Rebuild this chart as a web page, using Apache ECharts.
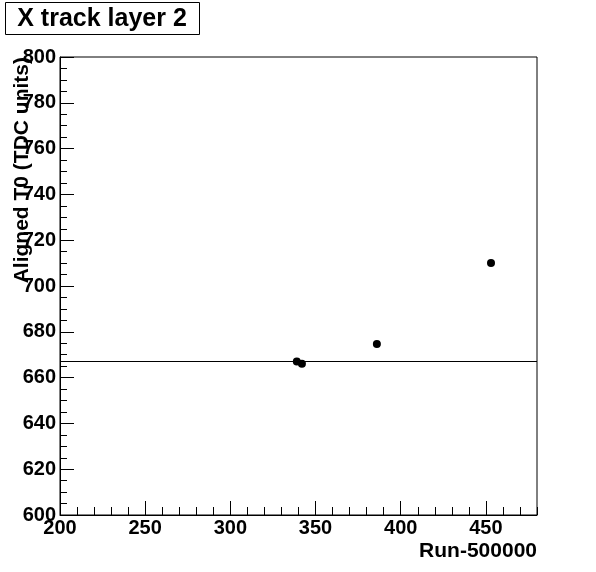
<!DOCTYPE html>
<html>
<head>
<meta charset="utf-8">
<script src="https://cdn.jsdelivr.net/npm/echarts@6/dist/echarts.min.js"></script>
<style>html,body{margin:0;padding:0;background:#fff;}#chart{width:596px;height:572px;}</style>
</head>
<body>
<div id="chart"></div>
<script>
const titleText = "X track layer 2";
const xAxisTitle = "Run-500000";
const yAxisTitle = "Aligned T0 (TDC units)";
const runs = [339, 342, 386, 453];
const t0 = [667, 666, 674.7, 710];
const meanT0 = 667;
const xRange = [200, 480];
const yRange = [600, 800];

const FONT = '"Liberation Sans", Arial, sans-serif';
const chart = echarts.init(document.getElementById('chart'), null, {renderer: 'canvas'});
const pts = runs.map((r, i) => [r, t0[i]]);

chart.setOption({
  animation: false,
  backgroundColor: '#fff',
  grid: {left: 60, right: 59, top: 57, bottom: 57, show: true, borderColor: '#000', borderWidth: 1, backgroundColor: 'transparent'},
  xAxis: [{
    type: 'value', min: xRange[0], max: xRange[1], interval: 50, position: 'bottom',
    axisLine: {show: true, onZero: false, lineStyle: {color: '#000', width: 1}},
    axisTick: {show: true, inside: true, length: 14, lineStyle: {color: '#000'}},
    minorTick: {show: false},
    splitLine: {show: false},
    axisLabel: {show: true, showMaxLabel: false, showMinLabel: true, margin: 3, color: '#000', fontFamily: FONT, fontWeight: 'bold', fontSize: 20}
  }, {
    type: 'value', min: xRange[0], max: xRange[1], interval: 10, position: 'bottom',
    axisLine: {show: false},
    axisTick: {show: true, inside: true, length: 8, lineStyle: {color: '#000'}},
    splitLine: {show: false},
    axisLabel: {show: false}
  }],
  yAxis: {
    type: 'value', min: yRange[0], max: yRange[1], interval: 20,
    axisLine: {show: true, onZero: false, lineStyle: {color: '#000', width: 1}},
    axisTick: {show: true, inside: true, length: 14, lineStyle: {color: '#000'}},
    minorTick: {show: true, splitNumber: 4, length: 7, lineStyle: {color: '#000'}},
    splitLine: {show: false},
    axisLabel: {show: true, margin: 4, color: '#000', fontFamily: FONT, fontWeight: 'bold', fontSize: 20}
  },
  series: [{
    type: 'scatter', xAxisIndex: 0, data: pts, symbol: 'circle', symbolSize: 8,
    itemStyle: {color: '#000', opacity: 1},
    markLine: {
      silent: true, symbol: 'none', label: {show: false},
      lineStyle: {color: '#000', width: 1, type: 'solid', opacity: 1},
      data: [{yAxis: meanT0}]
    }
  }],
  graphic: [
    {type: 'rect', shape: {x: 5.5, y: 2.5, width: 194, height: 32}, style: {fill: '#fff', stroke: '#000', lineWidth: 1}},
    {type: 'text', x: 102, y: 19, style: {text: titleText, fill: '#000', font: 'bold 25px ' + FONT, align: 'center', verticalAlign: 'middle'}},
    {type: 'text', x: 537, y: 551, style: {text: xAxisTitle, fill: '#000', font: 'bold 21px ' + FONT, align: 'right', verticalAlign: 'middle'}},
    {type: 'text', x: 22, y: 57, rotation: Math.PI / 2, style: {text: yAxisTitle, fill: '#000', font: 'bold 21px ' + FONT, align: 'right', verticalAlign: 'middle'}}
  ]
});
</script>
</body>
</html>
